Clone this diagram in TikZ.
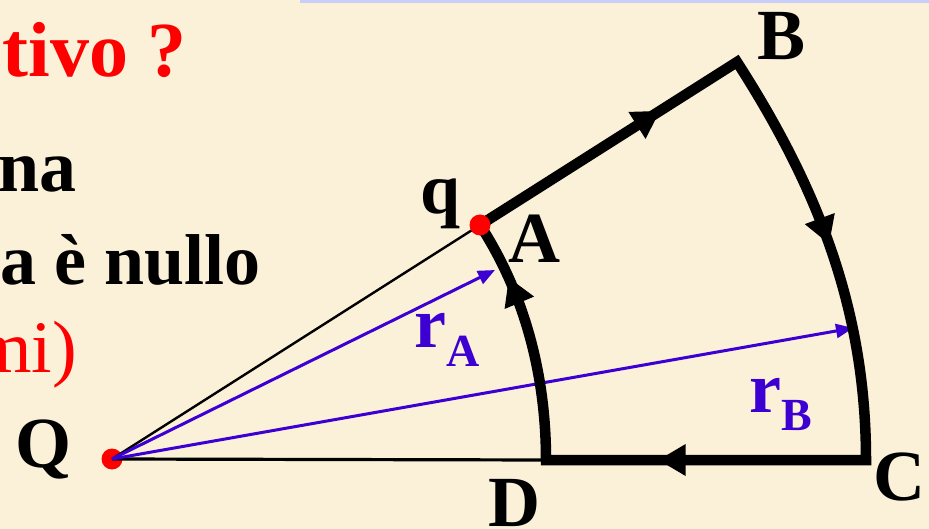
\documentclass[tikz,border=0pt]{standalone}
\usepackage{fontspec}
\setmainfont{Liberation Serif}
\usetikzlibrary{arrows.meta,decorations.markings}
\definecolor{bg}{RGB}{251,241,216}
\definecolor{vblue}{RGB}{60,0,210}
\definecolor{strip}{RGB}{200,205,250}
\begin{document}
\begin{tikzpicture}[x=1pt,y=-1pt,
  lbl/.style={font=\fontsize{72}{80}\selectfont\bfseries, inner sep=0pt},
  redtxt/.style={font=\fontsize{74}{80}\selectfont, text=red, inner sep=0pt},
  thickpath/.style={line width=10.5pt, line join=miter},
  thinline/.style={line width=2.4pt},
  radius/.style={vblue, line width=3pt, -{Triangle[length=17pt,width=14pt]}},
  dot/.style={circle, fill=red, minimum size=21pt, inner sep=0pt},
  arrowmark/.style={decorate, decoration={markings,
     mark=at position #1 with {\fill (9pt,0pt) -- (-18pt,16pt) -- (-18pt,-16pt) -- cycle;}}}
]
\fill[bg] (0,0) rectangle (929,529);
\useasboundingbox (0,0) rectangle (929,529);
\clip (0,0) rectangle (929,529);
\fill[strip] (300,0) rectangle (929,3);

% left text (clipped)
\node[redtxt, font=\fontsize{78}{84}\selectfont\bfseries, anchor=base east] (t1) at (187,77) {tivo ?};
\node[lbl, font=\fontsize{74}{80}\selectfont\bfseries, anchor=base east] (t2) at (77,192) {na};
\node[lbl, font=\fontsize{72}{80}\selectfont\bfseries, anchor=base east] (t3) at (261,285) {a è nullo};
\node[redtxt, anchor=base east] (t4) at (77,372) {mi)};

% points
\coordinate (A) at (480,225);
\coordinate (B) at (737,62);
\coordinate (C) at (866,460);
\coordinate (D) at (546,460);
\coordinate (ra) at (495,270);
\coordinate (rb) at (853,328);

\node[dot] (Q) at (112,459) {};

\draw[thinline] (Q.center) -- (A);
\draw[thinline, line width=3.2pt] (Q.center) -- (D);
\draw[radius] (Q.center) -- (ra);
\draw[radius] (Q.center) -- (rb);

\draw[thickpath] (D) .. controls (546,377) and (525.5,295) .. (A) -- (B)
   .. controls (818,188) and (866,310) .. (C) -- cycle;

\path[arrowmark=0.67] (A) -- (B);
\path[arrowmark=0.46] (B) .. controls (818,188) and (866,310) .. (C);
\path[arrowmark=0.62] (C) -- (D);
\path[arrowmark=0.72] (D) .. controls (546,377) and (525.5,295) .. (A);

\node[dot] (qdot) at (A) {};

% labels
\node[lbl, anchor=base west] (Qlab) at (15,467) {Q};
\node[lbl, anchor=base west] (qlab) at (420,214) {q};
\node[lbl, anchor=base west] (Alab) at (508,263) {A};
\node[lbl, anchor=base west] (Blab) at (757,60) {B};
\node[lbl, anchor=base west] (Clab) at (873,500) {C};
\node[lbl, anchor=base west] (Dlab) at (488,526) {D};
\node[lbl, text=vblue, anchor=base west] (rAlab) at (414,348)
   {r\raisebox{-19pt}{\fontsize{46}{50}\selectfont A}};
\node[lbl, text=vblue, anchor=base west] (rBlab) at (749,412)
   {r\raisebox{-18pt}{\fontsize{46}{50}\selectfont B}};
\end{tikzpicture}
\end{document}
